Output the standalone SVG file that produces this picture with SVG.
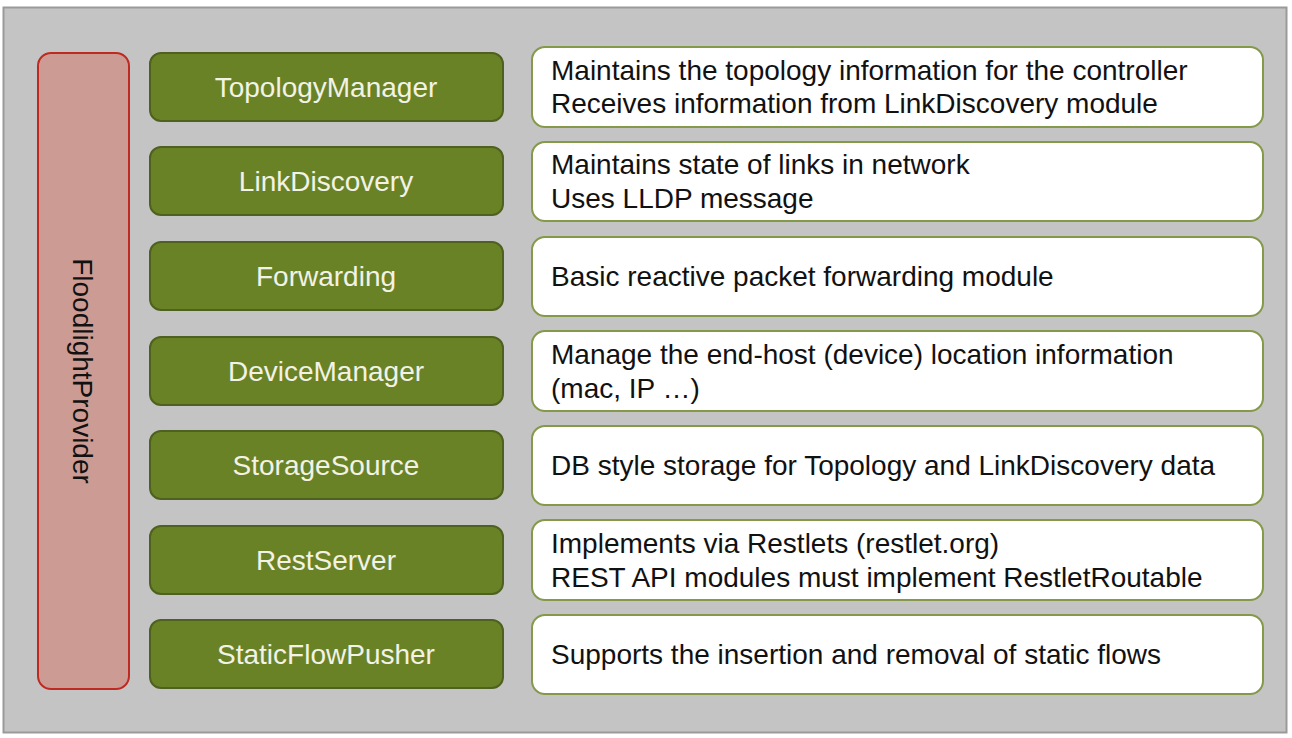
<svg xmlns="http://www.w3.org/2000/svg" width="1292" height="738" viewBox="0 0 1292 738">
<style>
.mod{fill:#6a8226;stroke:#4e6120;stroke-width:2}
.mt{font-family:"Liberation Sans",Arial,sans-serif;font-size:28px;fill:#f2f2e6;text-anchor:middle}
.desc{fill:#ffffff;stroke:#84994a;stroke-width:2}
.dt{font-family:"Liberation Sans",Arial,sans-serif;font-size:28px;fill:#111111}
</style>
<rect x="0" y="0" width="1292" height="738" fill="#ffffff"/>
<rect x="3.5" y="7.5" width="1283" height="725" fill="#c4c4c4" stroke="#9a9a9a" stroke-width="2"/>
<g id="floodlightprovider">
<rect x="38" y="53" width="91" height="636" rx="13" fill="#cc9b93" stroke="#bf2a20" stroke-width="2"/>
<text class="mt" transform="translate(73,371) rotate(90)" style="fill:#111111">FloodlightProvider</text>
</g>
<g id="topologymanager">
<rect class="mod" x="150" y="53" width="353" height="68" rx="11"/>
<text class="mt" x="326" y="97">TopologyManager</text>
<rect class="desc" x="532" y="47" width="731" height="80" rx="13"/>
<text class="dt" x="551" y="80">Maintains the topology information for the controller</text>
<text class="dt" x="551" y="113">Receives information from LinkDiscovery module</text>
</g>
<g id="linkdiscovery">
<rect class="mod" x="150" y="147" width="353" height="68" rx="11"/>
<text class="mt" x="326" y="191">LinkDiscovery</text>
<rect class="desc" x="532" y="142" width="731" height="79" rx="13"/>
<text class="dt" x="551" y="174">Maintains state of links in network</text>
<text class="dt" x="551" y="208">Uses LLDP message</text>
</g>
<g id="forwarding">
<rect class="mod" x="150" y="242" width="353" height="68" rx="11"/>
<text class="mt" x="326" y="286">Forwarding</text>
<rect class="desc" x="532" y="237" width="731" height="79" rx="13"/>
<text class="dt" x="551" y="286">Basic reactive packet forwarding module</text>
</g>
<g id="devicemanager">
<rect class="mod" x="150" y="337" width="353" height="68" rx="11"/>
<text class="mt" x="326" y="381">DeviceManager</text>
<rect class="desc" x="532" y="331" width="731" height="80" rx="13"/>
<text class="dt" x="551" y="364">Manage the end-host (device) location information</text>
<text class="dt" x="551" y="398">(mac, IP …)</text>
</g>
<g id="storagesource">
<rect class="mod" x="150" y="431" width="353" height="68" rx="11"/>
<text class="mt" x="326" y="475">StorageSource</text>
<rect class="desc" x="532" y="426" width="731" height="79" rx="13"/>
<text class="dt" x="551" y="475">DB style storage for Topology and LinkDiscovery data</text>
</g>
<g id="restserver">
<rect class="mod" x="150" y="526" width="353" height="68" rx="11"/>
<text class="mt" x="326" y="570">RestServer</text>
<rect class="desc" x="532" y="520" width="731" height="80" rx="13"/>
<text class="dt" x="551" y="553">Implements via Restlets (restlet.org)</text>
<text class="dt" x="551" y="587">REST API modules must implement RestletRoutable</text>
</g>
<g id="staticflowpusher">
<rect class="mod" x="150" y="620" width="353" height="68" rx="11"/>
<text class="mt" x="326" y="664">StaticFlowPusher</text>
<rect class="desc" x="532" y="615" width="731" height="79" rx="13"/>
<text class="dt" x="551" y="664">Supports the insertion and removal of static flows</text>
</g>
<g id="connectors"></g>
</svg>
